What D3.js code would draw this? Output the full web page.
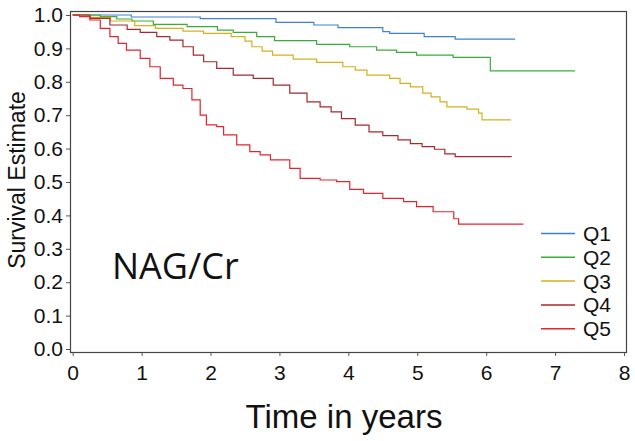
<!DOCTYPE html>
<html>
<head>
<meta charset="utf-8">
<script src="https://cdn.jsdelivr.net/npm/d3@7"></script>
<style>
  html, body { margin: 0; padding: 0; background: #fff; }
  svg { display: block; }
</style>
</head>
<body>
<div id="chart"></div>
<script>
// Kaplan-Meier step curves: [time in years, survival]
// last pair of each series is the end of follow-up (same survival value)
const groups = ['Q1', 'Q2', 'Q3', 'Q4', 'Q5'];

const q1 = [[0, 1], [0.85, 0.994], [1.85, 0.989], [2.95, 0.978], [3.5, 0.970], [3.85, 0.962],
  [4.5, 0.950], [4.6, 0.945], [5.1, 0.935], [5.55, 0.928], [6.42, 0.928]];

const q2 = [[0, 1], [0.4, 0.995], [0.64, 0.988], [0.86, 0.982], [1.17, 0.972], [1.66, 0.965],
  [2.1, 0.955], [2.33, 0.948], [2.67, 0.935], [2.93, 0.923], [3.54, 0.912], [4.02, 0.905],
  [4.41, 0.895], [4.7, 0.888], [4.99, 0.880], [5.52, 0.873], [6.06, 0.833], [7.29, 0.833]];

const q3 = [[0, 1], [0.25, 0.993], [0.55, 0.982], [0.9, 0.968], [1.2, 0.960], [1.6, 0.952],
  [1.9, 0.945], [2.3, 0.935], [2.5, 0.922], [2.6, 0.905], [2.75, 0.892], [2.9, 0.880],
  [3.2, 0.868], [3.54, 0.858], [3.92, 0.845], [4.1, 0.835], [4.27, 0.820], [4.6, 0.810],
  [4.75, 0.795], [4.9, 0.785], [5.08, 0.766], [5.2, 0.755], [5.33, 0.740], [5.43, 0.725],
  [5.72, 0.718], [5.89, 0.706], [5.94, 0.686], [6.36, 0.686]];

const q4 = [[0, 1], [0.25, 0.99], [0.54, 0.97], [0.79, 0.957], [0.98, 0.948], [1.22, 0.935],
  [1.41, 0.925], [1.6, 0.905], [1.75, 0.88], [1.9, 0.86], [2.09, 0.84], [2.33, 0.82],
  [2.62, 0.81], [2.91, 0.79], [3.15, 0.766], [3.4, 0.74], [3.59, 0.725], [3.75, 0.71],
  [3.9, 0.69], [4.1, 0.67], [4.3, 0.65], [4.5, 0.639], [4.72, 0.626], [4.9, 0.615],
  [5.07, 0.606], [5.25, 0.598], [5.4, 0.584], [5.55, 0.576], [6.37, 0.576]];

const q5 = [[0, 1], [0.1, 0.995], [0.25, 0.985], [0.4, 0.96], [0.54, 0.935], [0.66, 0.915],
  [0.78, 0.895], [0.98, 0.87], [1.12, 0.845], [1.27, 0.81], [1.46, 0.79], [1.6, 0.78],
  [1.73, 0.746], [1.85, 0.70], [1.94, 0.671], [2.09, 0.666], [2.19, 0.641], [2.38, 0.611],
  [2.57, 0.591], [2.72, 0.581], [2.87, 0.566], [3.15, 0.541], [3.3, 0.511], [3.59, 0.506],
  [3.83, 0.501], [4.02, 0.478], [4.22, 0.466], [4.5, 0.451], [4.8, 0.441], [4.99, 0.426],
  [5.23, 0.411], [5.53, 0.39], [5.6, 0.374], [6.54, 0.374]];

const series = [q1, q2, q3, q4, q5];
const colors = ['#3f80d4', '#38ad3a', '#d4b11c', '#a8282c', '#e4242e'];

const xTicks = [0, 1, 2, 3, 4, 5, 6, 7, 8];
const yTicks = [0, 0.1, 0.2, 0.3, 0.4, 0.5, 0.6, 0.7, 0.8, 0.9, 1.0];

const W = 635, H = 441;
const frame = { left: 70, top: 11, right: 626, bottom: 352 };

const svg = d3.select('#chart')
  .append('svg')
  .attr('width', W)
  .attr('height', H)
  .attr('viewBox', `0 0 ${W} ${H}`);

const x = d3.scaleLinear().domain([0, 8]).range([72.7, 624]);
const y = d3.scaleLinear().domain([0, 1]).range([349, 15]);

const tickFont = '"Liberation Sans", Arial, sans-serif';

// axes
const xAxis = d3.axisBottom(x).tickValues(xTicks).tickFormat(d3.format('d')).tickSizeOuter(0).tickSize(4).tickPadding(9);
const yAxis = d3.axisLeft(y).tickValues(yTicks).tickFormat(d3.format('.1f')).tickSizeOuter(0).tickSize(4).tickPadding(3);

const gx = svg.append('g').attr('transform', `translate(0,${frame.bottom})`).call(xAxis);
const gy = svg.append('g').attr('transform', `translate(${frame.left},0)`).call(yAxis);

[gx, gy].forEach(g => {
  g.select('.domain').remove();
  g.selectAll('.tick line').attr('stroke', '#555');
  g.selectAll('.tick text')
    .attr('fill', '#111')
    .style('font-family', tickFont)
    .style('font-size', '21px');
});

// frame
svg.append('rect')
  .attr('x', frame.left + 0.5)
  .attr('y', frame.top + 0.5)
  .attr('width', frame.right - frame.left)
  .attr('height', frame.bottom - frame.top)
  .attr('fill', 'none')
  .attr('stroke', '#444')
  .attr('stroke-width', 1.2);

// survival curves
const line = d3.line()
  .x(d => x(d[0]))
  .y(d => y(d[1]))
  .curve(d3.curveStepAfter);

svg.append('g')
  .selectAll('path')
  .data(series)
  .join('path')
  .attr('d', line)
  .attr('fill', 'none')
  .attr('stroke', (d, i) => colors[i])
  .attr('stroke-width', 1.2);

// legend
const legend = svg.append('g')
  .selectAll('g')
  .data(groups)
  .join('g')
  .attr('transform', (d, i) => `translate(541,${233.5 + i * 23.8})`);

legend.append('line')
  .attr('x1', 0).attr('x2', 34)
  .attr('stroke', (d, i) => colors[i])
  .attr('stroke-width', 1.5);

legend.append('text')
  .attr('x', 42)
  .attr('y', 7.5)
  .attr('fill', '#111')
  .style('font-family', tickFont)
  .style('font-size', '21px')
  .text(d => d);

// panel label
svg.append('text')
  .attr('x', 112)
  .attr('y', 279)
  .attr('fill', '#111')
  .style('font-family', '"Open Sans", "Noto Sans", sans-serif')
  .style('font-size', '36px')
  .text('NAG/Cr');

// axis titles
svg.append('text')
  .attr('x', 344)
  .attr('y', 428)
  .attr('text-anchor', 'middle')
  .attr('fill', '#111')
  .style('font-family', tickFont)
  .style('font-size', '33px')
  .text('Time in years');

svg.append('text')
  .attr('transform', 'translate(25,180) rotate(-90)')
  .attr('text-anchor', 'middle')
  .attr('fill', '#111')
  .style('font-family', tickFont)
  .style('font-size', '23px')
  .text('Survival Estimate');
</script>
</body>
</html>
